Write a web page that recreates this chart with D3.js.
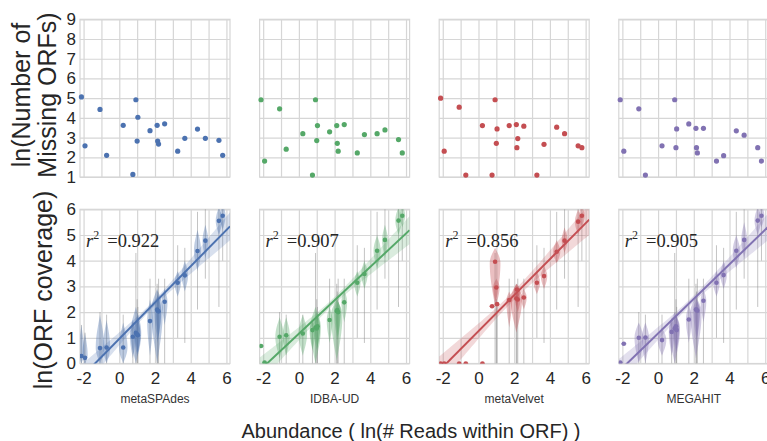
<!DOCTYPE html>
<html>
  <head>
    <meta charset="utf-8">
    <title>Missing ORFs vs abundance</title>
    <script src="https://d3js.org/d3.v7.min.js"></script>
    <style>
      body { margin: 0; background: #fff; }
      text { font-family: "Liberation Sans", Arial, sans-serif; }
    </style>
  </head>
  <body>
    <script>
      // assemblers and colours
      var assemblers = ["metaSPAdes", "IDBA-UD", "metaVelvet", "MEGAHIT"];
      var colors = ["#4C72B0", "#55A868", "#C44E52", "#8172B2"];
      var r2 = [0.922, 0.907, 0.856, 0.905];

      // abundance of each genome, ln(# reads within ORF)
      var abundance = [-2.12, -1.92, -1.08, -0.71, 0.22, 0.76, 0.93, 1.0, 1.04, 1.72,
                       2.12, 2.15, 2.2, 2.54, 3.27, 3.67, 4.38, 4.82, 5.58, 5.79];

      // ln(number of missing ORFs), top row
      var missingSPAdes   = [5.06, 2.58, 4.43, 2.10, 3.62, 1.13, 4.92, 2.82, 4.03, 3.35, 3.62, 2.82, 2.67, 3.70, 2.31, 2.96, 3.43, 2.96, 2.86, 2.10];
      var missingIDBA     = [4.92, 1.81, 4.46, 2.41, 3.20, 1.10, 4.92, 2.85, 3.61, 3.29, 3.61, 2.71, 2.31, 3.66, 2.22, 3.15, 3.20, 3.39, 2.90, 2.22];
      var missingVelvet   = [5.00, 2.31, 4.54, 1.10, 3.61, 1.10, 4.92, 2.71, 3.44, 3.61, 3.66, 2.49, 2.95, 3.58, 1.10, 2.66, 3.53, 3.20, 2.58, 2.49];
      var missingMEGAHIT  = [4.92, 2.31, 4.46, 1.10, 2.58, null, 4.92, 2.49, 3.44, 3.69, 3.47, 2.49, 2.22, 3.47, 1.81, 2.08, 3.34, 3.12, 2.49, 1.81];

      // ln(ORF coverage), mean per genome, bottom row
      var covSPAdes  = [0.29, 0.22, 0.60, 0.62, 0.62, 1.04, 1.19, 1.14, 1.10, 1.65, 2.10, 2.05, 2.03, 2.40, 3.14, 3.43, 4.38, 4.78, 5.55, 5.75];
      var covIDBA    = [0.68, 0.04, 1.04, 1.10, 1.17, 1.30, 1.40, 1.36, 1.45, 1.69, 2.04, 2.08, 2.00, 2.38, 3.14, 3.48, 4.39, 4.81, 5.56, 5.75];
      var covVelvet  = [0, 0, 0, 0, 0, 2.23, 3.96, 2.96, 2.31, 2.47, 2.53, 2.88, 2.49, 2.57, 3.14, 3.40, 4.35, 4.78, 5.52, 5.75];
      var covMEGAHIT = [0.04, 0.77, 1.00, 1.01, 0.91, 1.23, 1.36, 1.45, 1.30, 1.71, 2.10, 2.10, 2.05, 2.44, 3.14, 3.44, 4.39, 4.81, 5.56, 5.75];

      // violin extents (ln coverage) per genome
      var loSPAdes  = [0, 0, 0, 0, 0, 0.2, 0, 0.3, 0.4, 0.3, 0, 0.8, 1.0, 1.5, 2.6, 2.8, 3.6, 4.1, 5.0, 5.2];
      var hiSPAdes  = [1.5, 1.2, 1.9, 1.7, 1.6, 1.7, 2.2, 1.9, 1.8, 2.5, 2.9, 2.7, 2.6, 2.9, 3.6, 4.0, 5.2, 5.4, 6.1, 6.2];
      var loIDBA    = [0.68, 0.04, 0.2, 0.3, 0.3, 0.5, 0, 0.5, 0.6, 0.8, 0.1, 0.9, 1.0, 1.6, 2.6, 2.9, 3.7, 4.1, 5.0, 5.3];
      var hiIDBA    = [0.68, 0.04, 1.8, 1.8, 1.9, 1.7, 2.2, 2.0, 1.9, 2.2, 2.5, 2.5, 2.4, 2.9, 3.6, 4.0, 5.0, 5.4, 6.1, 6.2];
      var loVelvet  = [0, 0, 0, 0, 0, 2.23, 2.2, 2.3, 2.2, 1.4, 1.2, 2.2, 2.0, 2.1, 2.7, 2.9, 3.9, 4.3, 5.0, 5.3];
      var hiVelvet  = [0, 0, 0, 0, 0, 2.23, 4.5, 3.3, 2.4, 2.8, 3.1, 3.1, 2.8, 2.9, 3.6, 3.8, 4.8, 5.3, 6.0, 6.2];
      var loMEGAHIT = [0.04, 0.77, 0, 0, 0.3, 0.3, 0, 0.4, 0.5, 0.8, 0.2, 0.9, 1.0, 1.6, 2.6, 2.9, 3.7, 4.1, 5.0, 5.3];
      var hiMEGAHIT = [0.04, 0.77, 1.6, 1.6, 1.4, 1.8, 2.0, 1.9, 1.8, 2.3, 2.6, 2.5, 2.4, 2.9, 3.6, 4.0, 5.0, 5.5, 6.1, 6.2];
      var violinW   = [0.16, 0.15, 0.24, 0.2, 0.24, 0.16, 0.3, 0.18, 0.15, 0.16, 0.32, 0.18, 0.15, 0.16, 0.18, 0.18, 0.2, 0.16, 0.18, 0.16];

      // thin grey range lines
      var rangeLo = [0, 0, 0, 0, 0, 0, 0, 0, 0, 0, 0, 0, 0, 0, 1.0, 0.8, 2.1, 3.3, 2.2, 4.0];
      var rangeHi = [1.5, 1.2, 2.0, 1.9, 1.9, 1.6, 4.3, 2.5, 2.2, 3.3, 3.1, 2.8, 3.3, 3.3, 4.6, 4.5, 5.9, 6.2, 6.2, 6.2];

      // regression fits
      var fitSlope     = [0.706, 0.65, 0.70, 0.673];
      var fitIntercept = [0.96, 1.16, 1.26, 1.17];
      var ciMid  = [0.12, 0.13, 0.18, 0.13];
      var ciEdge = [0.5, 0.5, 0.55, 0.48];

      var missing = [missingSPAdes, missingIDBA, missingVelvet, missingMEGAHIT];
      var cov = [covSPAdes, covIDBA, covVelvet, covMEGAHIT];
      var vLo = [loSPAdes, loIDBA, loVelvet, loMEGAHIT];
      var vHi = [hiSPAdes, hiIDBA, hiVelvet, hiMEGAHIT];

      var W = 767, H = 441;
      var panelW = 150, step = 179.6, left0 = 80;
      var topY = [19.3, 177], botY = [209.3, 363.5];
      var gridColor = "#d6d6d6", textColor = "#262626";

      var svg = d3.select("body").append("svg")
        .attr("width", W).attr("height", H);
      svg.append("rect").attr("width", W).attr("height", H).attr("fill", "#fff");

      var defs = svg.append("defs");
      var xc = d3.mean(abundance);

      function styleGrid(g) {
        g.select(".domain").remove();
        g.selectAll(".tick line").attr("stroke", gridColor).attr("stroke-width", 1.2);
        g.selectAll(".tick text").attr("fill", textColor).style("font-size", "17px");
      }

      assemblers.forEach(function(name, i) {
        var gx = left0 + i * step;
        var x = d3.scaleLinear().domain([-2.2, 6.2]).range([gx, gx + panelW]);
        var yT = d3.scaleLinear().domain([1, 9]).range([topY[1], topY[0]]);
        var yB = d3.scaleLinear().domain([0, 6]).range([botY[1], botY[0]]);
        var col = colors[i];

        // ---------- top panel ----------
        var top = svg.append("g");
        top.append("g")
          .attr("transform", "translate(0," + topY[1] + ")")
          .call(d3.axisBottom(x).tickValues(d3.range(-2, 7)).tickSize(-(topY[1] - topY[0])).tickFormat(""))
          .call(styleGrid);
        top.append("g")
          .attr("transform", "translate(" + gx + ",0)")
          .call(d3.axisLeft(yT).tickValues(d3.range(1, 10)).tickSize(-panelW).tickPadding(4)
            .tickFormat(i === 0 ? d3.format("d") : ""))
          .call(styleGrid);
        top.append("rect")
          .attr("x", gx).attr("y", topY[0]).attr("width", panelW).attr("height", topY[1] - topY[0])
          .attr("fill", "none").attr("stroke", gridColor).attr("stroke-width", 1.2);
        top.selectAll("circle")
          .data(abundance.map(function(a, j) { return [a, missing[i][j]]; }).filter(function(d) { return d[1] != null; }))
          .enter().append("circle")
          .attr("cx", function(d) { return x(d[0]); })
          .attr("cy", function(d) { return yT(d[1]); })
          .attr("r", 2.6)
          .attr("fill", col);

        // ---------- bottom panel ----------
        var clipId = "clip" + i;
        defs.append("clipPath").attr("id", clipId).append("rect")
          .attr("x", gx).attr("y", botY[0]).attr("width", panelW).attr("height", botY[1] - botY[0]);

        var bot = svg.append("g");
        bot.append("g")
          .attr("transform", "translate(0," + botY[1] + ")")
          .call(d3.axisBottom(x).tickValues(d3.range(-2, 7)).tickSize(-(botY[1] - botY[0])).tickFormat(""))
          .call(styleGrid);
        bot.append("g")
          .attr("transform", "translate(" + gx + ",0)")
          .call(d3.axisLeft(yB).tickValues(d3.range(0, 7)).tickSize(-panelW).tickPadding(4)
            .tickFormat(i === 0 ? d3.format("d") : ""))
          .call(styleGrid);
        // x tick labels
        bot.append("g")
          .attr("transform", "translate(0," + botY[1] + ")")
          .call(d3.axisBottom(x).tickValues([-2, 0, 2, 4, 6]).tickSize(0).tickPadding(8)
            .tickFormat(function(d) { return String(d); }))
          .call(styleGrid);
        bot.append("rect")
          .attr("x", gx).attr("y", botY[0]).attr("width", panelW).attr("height", botY[1] - botY[0])
          .attr("fill", "none").attr("stroke", gridColor).attr("stroke-width", 1.2);

        var plot = bot.append("g").attr("clip-path", "url(#" + clipId + ")");

        // grey range lines
        abundance.forEach(function(a, j) {
          if (vHi[i][j] <= vLo[i][j]) return;
          plot.append("line")
            .attr("x1", x(a)).attr("x2", x(a))
            .attr("y1", yB(rangeLo[j])).attr("y2", yB(rangeHi[j]))
            .attr("stroke", "#8a8a8a").attr("stroke-opacity", 0.5).attr("stroke-width", 1);
        });

        // violins
        var pxPerUnit = x(1) - x(0);
        var area = d3.area()
          .y(function(d) { return yB(d.v); })
          .x0(function(d) { return d.cx - d.hw; })
          .x1(function(d) { return d.cx + d.hw; })
          .curve(d3.curveBasis);
        abundance.forEach(function(a, j) {
          var lo = vLo[i][j], hi = vHi[i][j], c = cov[i][j];
          if (hi - lo < 1e-6) {
            plot.append("line")
              .attr("x1", x(a - 0.14)).attr("x2", x(a + 0.14))
              .attr("y1", yB(c)).attr("y2", yB(c))
              .attr("stroke", col).attr("stroke-opacity", 0.6).attr("stroke-width", 1.5);
            return;
          }
          var span = hi - lo;
          var m = Math.max(lo + 0.25 * span, Math.min(hi - 0.25 * span, c));
          var pts = d3.range(0, 25).map(function(k) {
            var v = lo + span * k / 24;
            var u = v < m ? (m - v) / (m - lo) : (v - m) / (hi - m);
            var hw = violinW[j] * pxPerUnit * Math.pow(Math.max(0, Math.cos(u * Math.PI / 2)), 1.1);
            return { v: v, cx: x(a), hw: hw };
          });
          plot.append("path")
            .attr("d", area(pts))
            .attr("fill", col).attr("fill-opacity", 0.36);
        });

        // regression band and line
        var k = Math.sqrt(ciEdge[i] * ciEdge[i] - ciMid[i] * ciMid[i]) / 4;
        var xs = d3.range(-2.2, 6.25, 0.1);
        var band = xs.map(function(v) {
          var yh = fitIntercept[i] + fitSlope[i] * v;
          var hw = Math.sqrt(ciMid[i] * ciMid[i] + k * k * (v - xc) * (v - xc));
          return { x: v, lo: yh - hw, hi: yh + hw };
        });
        plot.append("path")
          .datum(band)
          .attr("d", d3.area().x(function(d) { return x(d.x); })
            .y0(function(d) { return yB(d.lo); }).y1(function(d) { return yB(d.hi); }))
          .attr("fill", col).attr("fill-opacity", 0.22);
        plot.append("line")
          .attr("x1", x(-2.2)).attr("y1", yB(fitIntercept[i] + fitSlope[i] * -2.2))
          .attr("x2", x(6.2)).attr("y2", yB(fitIntercept[i] + fitSlope[i] * 6.2))
          .attr("stroke", col).attr("stroke-width", 2);

        // mean points
        plot.selectAll("circle.mean")
          .data(abundance.map(function(a, j) { return [a, cov[i][j]]; }))
          .enter().append("circle")
          .attr("class", "mean")
          .attr("cx", function(d) { return x(d[0]); })
          .attr("cy", function(d) { return yB(d[1]); })
          .attr("r", 2.3)
          .attr("fill", col);

        // r^2 annotation
        var t = bot.append("text")
          .attr("x", gx + 6).attr("y", 247)
          .style("font-family", "'Liberation Serif', 'DejaVu Serif', serif")
          .style("font-size", "18.5px")
          .attr("fill", textColor);
        t.append("tspan").style("font-style", "italic").text("r");
        t.append("tspan").attr("dy", -8).style("font-size", "12px").text("2");
        t.append("tspan").attr("dy", 8).attr("dx", 8).text("=" + r2[i].toFixed(3));

        // assembler name
        bot.append("text")
          .attr("x", gx + panelW / 2).attr("y", 403)
          .attr("text-anchor", "middle")
          .style("font-size", "12px")
          .attr("fill", "#333")
          .text(name);
      });

      // axis titles
      svg.append("text")
        .attr("transform", "translate(30,95) rotate(-90)")
        .attr("text-anchor", "middle")
        .style("font-size", "25px").attr("fill", textColor)
        .text("ln(Number of");
      svg.append("text")
        .attr("transform", "translate(56,95) rotate(-90)")
        .attr("text-anchor", "middle")
        .style("font-size", "25px").attr("fill", textColor)
        .text("Missing ORFs)");
      svg.append("text")
        .attr("transform", "translate(52,290) rotate(-90)")
        .attr("text-anchor", "middle")
        .style("font-size", "25px").attr("fill", textColor)
        .text("ln(ORF coverage)");
      svg.append("text")
        .attr("x", 411).attr("y", 438)
        .attr("text-anchor", "middle")
        .style("font-size", "20px").attr("fill", textColor)
        .text("Abundance ( ln(# Reads within ORF) )");
    </script>
  </body>
</html>
